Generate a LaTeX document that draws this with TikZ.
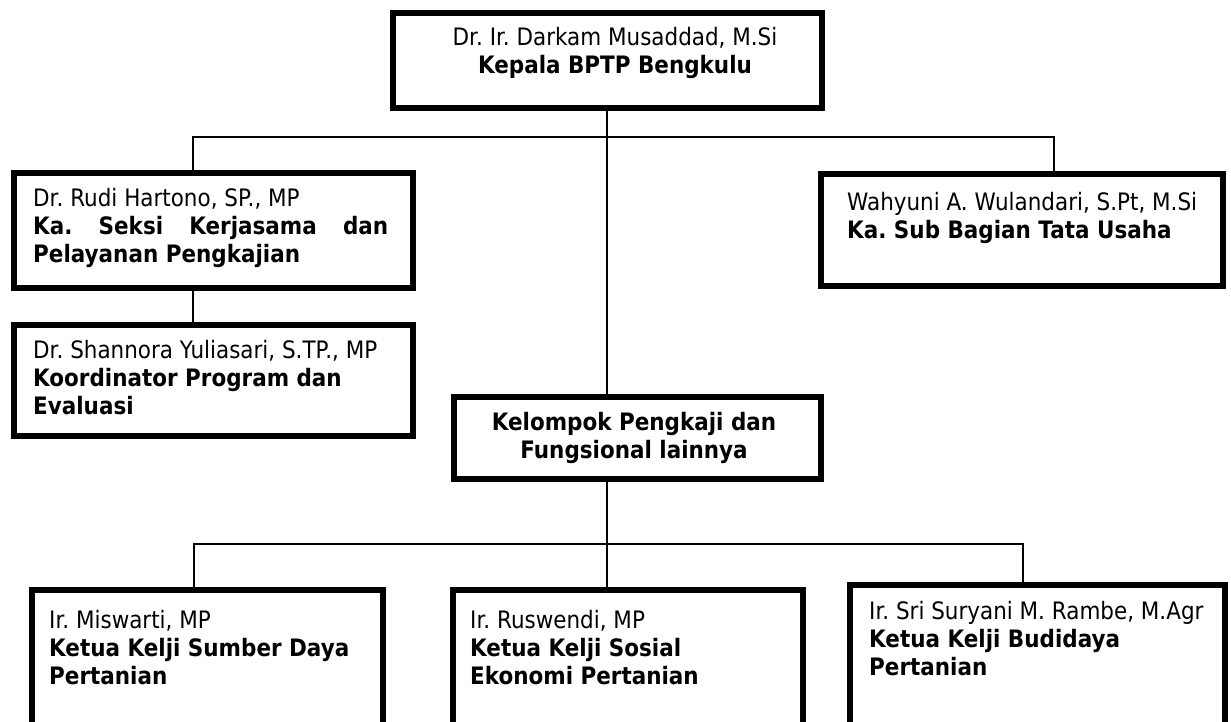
\documentclass[tikz,border=0pt]{standalone}
\usepackage{fontspec}
\setmainfont{DejaVu Sans}[FakeStretch=0.895]
\begin{document}
\frenchspacing
\begin{tikzpicture}[x=1pt,y=-1pt,
  box/.style={draw, line width=6pt, inner sep=0pt, anchor=north west},
  conn/.style={line width=2pt},
  txt/.style={anchor=base west, inner sep=0pt, font=\fontsize{24}{28}\selectfont\frenchspacing},
  ctxt/.style={anchor=base, inner sep=0pt, font=\fontsize{24}{28}\selectfont\frenchspacing}]
\useasboundingbox (0,0) rectangle (1231,721);
% boxes
\node[box, minimum width=429pt, minimum height=95pt] (top) at (390,10) {};
\node[box, minimum width=399pt, minimum height=115pt] (rudi) at (11,170) {};
\node[box, minimum width=399pt, minimum height=111pt] (shan) at (11,322) {};
\node[box, minimum width=402pt, minimum height=112pt] (wahy) at (818,171) {};
\node[box, minimum width=367pt, minimum height=82pt] (kel) at (451,394) {};
\node[box, minimum width=351pt, minimum height=135pt] (mis) at (29,587) {};
\node[box, minimum width=350pt, minimum height=135pt] (rus) at (450,587) {};
\node[box, minimum width=375pt, minimum height=140pt] (ram) at (847,582) {};
% junctions
\coordinate (jt) at (607,137);
\coordinate (hl) at (193,137);
\coordinate (hr) at (1054,137);
\coordinate (bl) at (194,544);
\coordinate (bm) at (607,544);
\coordinate (br) at (1023,544);
% connectors
\draw[conn] (jt |- top.south) -- (jt |- kel.north);
\draw[conn] (hl |- rudi.north) -- (hl) -- (hr) -- (hr |- wahy.north);
\draw[conn] (hl |- rudi.south) -- (hl |- shan.north);
\draw[conn] (bm |- kel.south) -- (bm |- rus.north);
\draw[conn] (bl |- mis.north) -- (bl) -- (br) -- (br |- ram.north);
% texts
\node[ctxt] (ttop) at (615,45) {\parbox[t]{420pt}{\centering Dr. Ir. Darkam Musaddad, M.Si\\\textbf{Kepala BPTP Bengkulu}}};
\node[txt] (trudi) at (33,206) {\parbox[t]{370pt}{Dr. Rudi Hartono, SP., MP\\\textbf{\makebox[355pt][s]{Ka. Seksi Kerjasama dan}}\\\textbf{Pelayanan Pengkajian}}};
\node[txt] (tshan) at (33,358) {\parbox[t]{370pt}{Dr. Shannora Yuliasari, S.TP., MP\\\textbf{Koordinator Program dan}\\\textbf{Evaluasi}}};
\node[txt] (twahy) at (847,210) {\parbox[t]{380pt}{Wahyuni A. Wulandari, S.Pt, M.Si\\\textbf{Ka. Sub Bagian Tata Usaha}}};
\node[ctxt] (tkel) at (634,430) {\parbox[t]{360pt}{\centering\bfseries Kelompok Pengkaji dan\\Fungsional lainnya}};
\node[txt] (tmis) at (49,628) {\parbox[t]{330pt}{Ir. Miswarti, MP\\\textbf{Ketua Kelji Sumber Daya}\\\textbf{Pertanian}}};
\node[txt] (trus) at (470,628) {\parbox[t]{330pt}{Ir. Ruswendi, MP\\\textbf{Ketua Kelji Sosial}\\\textbf{Ekonomi Pertanian}}};
\node[txt] (tram) at (869,619) {\parbox[t]{350pt}{Ir. Sri Suryani M. Rambe, M.Agr\\\textbf{Ketua Kelji Budidaya}\\\textbf{Pertanian}}};
\end{tikzpicture}
\end{document}
